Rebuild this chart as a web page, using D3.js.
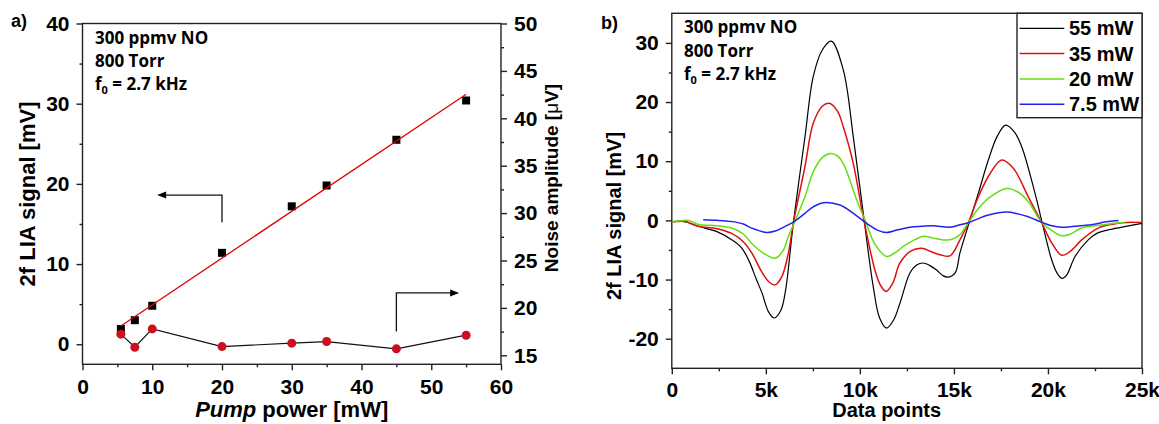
<!DOCTYPE html>
<html>
<head>
<meta charset="utf-8">
<script src="https://cdn.jsdelivr.net/npm/d3@7"></script>
<style>
  body { margin: 0; background: #fff; }
  svg { display: block; }
  text { font-family: "Liberation Sans", Arial, sans-serif; font-weight: bold; fill: #000; }
  .note { font-family: "Open Sans", sans-serif; font-weight: 700; }
</style>
</head>
<body>
<svg id="chart" width="1159" height="424"></svg>
<script>
// panel a) signal and noise vs pump power
var pump_power = [5.5, 7.5, 10, 20, 30, 35, 45, 55];
var lia_signal = [1.9, 3.0, 4.8, 11.4, 17.2, 19.8, 25.5, 30.4];
var noise_amplitude = [17.23, 15.85, 17.78, 15.92, 16.28, 16.45, 15.68, 17.12];

// panel b) 2f waveforms, x in data points, y in mV
var legend_labels = ['55 mW', '35 mW', '20 mW', '7.5 mW'];
var points_55 = [0, 700, 1400, 2400, 3200, 3700, 4100, 4500, 4800, 5150, 5450, 5800, 6050, 6460, 7080, 7520, 8000, 8480, 9120, 9650, 10180, 10710, 11050, 11420, 11800, 12130, 12660, 13000, 13370, 13700, 14080, 14400, 14650, 15060, 15320, 15800, 16300, 16830, 17300, 17750, 18200, 18600, 19310, 19700, 20200, 20500, 20750, 21000, 21440, 22140, 22600, 23200, 24000, 25000];
var signal_55 = [-0.2, -0.2, -1.0, -1.9, -3.3, -4.6, -6.8, -10.0, -12.3, -15.5, -16.5, -15.2, -11.8, -0.5, 14.1, 24.3, 28.8, 30.3, 25.4, 14.1, 1.2, -11.2, -16.5, -18.2, -16.8, -14.0, -8.9, -7.6, -7.2, -7.6, -8.4, -9.3, -9.6, -8.9, -5.5, -0.5, 4.6, 10.2, 14.2, 16.1, 15.0, 12.5, 4.6, -0.5, -6.7, -9.0, -9.8, -9.2, -6.1, -3.3, -2.2, -1.6, -1.1, -0.5];
var points_35 = [0, 700, 1410, 2400, 3180, 3800, 4250, 4800, 5200, 5490, 5850, 6200, 6460, 7080, 7520, 8000, 8370, 8800, 9120, 9650, 10180, 10800, 11100, 11390, 11750, 12130, 12700, 13280, 13800, 14260, 14790, 15320, 15760, 16300, 16900, 17540, 18160, 18950, 19650, 20200, 20730, 21200, 21790, 22670, 23500, 24200, 25000];
var signal_35 = [-0.3, -0.2, -1.0, -1.4, -2.2, -3.6, -5.5, -8.8, -10.5, -10.9, -9.5, -5.5, -0.5, 9.1, 16.4, 19.3, 19.8, 18.5, 15.8, 9.6, 0.6, -8.4, -11.0, -12.0, -10.6, -7.2, -5.2, -4.7, -5.3, -5.8, -6.0, -3.3, -0.45, 4.0, 7.8, 10.2, 8.8, 4.0, -0.3, -3.8, -5.9, -5.2, -3.3, -1.3, -0.6, -0.35, -0.37];
var points_20 = [0, 890, 1410, 2400, 3180, 3800, 4250, 4900, 5490, 5900, 6200, 6500, 7080, 7520, 8000, 8410, 8800, 9120, 9830, 10270, 10800, 11420, 11900, 12310, 12900, 13370, 13900, 14430, 14900, 15320, 15760, 16300, 16900, 17800, 18400, 18950, 19650, 20200, 20730, 21200, 21790, 22850, 23500, 24100];
var signal_20 = [-0.3, 0.0, -0.7, -0.9, -1.3, -2.3, -3.9, -5.6, -6.4, -5.2, -2.7, -0.5, 4.0, 8.2, 10.6, 11.3, 10.9, 9.6, 3.5, 0.1, -4.0, -6.1, -5.4, -4.4, -3.3, -2.7, -3.0, -3.3, -3.2, -2.4, -0.45, 2.0, 3.9, 5.4, 4.8, 3.2, -0.3, -1.7, -2.6, -2.3, -1.3, -0.8, -0.5, -0.3];
var points_7_5 = [1670, 2500, 3180, 3800, 4250, 5050, 5500, 5840, 6460, 7080, 7520, 8060, 8940, 9650, 10360, 10900, 11420, 12000, 12660, 13300, 13900, 14790, 15320, 15760, 16300, 16830, 17800, 18400, 18950, 19650, 20200, 20730, 21400, 22140, 23200, 23750];
var signal_7_5 = [0.1, 0.0, -0.2, -0.6, -1.3, -2.05, -1.8, -1.3, -0.3, 1.2, 2.3, 3.0, 2.6, 1.2, -0.5, -1.6, -2.05, -1.6, -1.15, -1.0, -0.9, -1.15, -0.75, -0.4, 0.3, 0.9, 1.4, 1.1, 0.6, -0.3, -0.9, -1.15, -1.0, -0.8, -0.2, 0.0];
var line_colors = ['#000000', '#dd1111', '#66dd11', '#2222ee'];
var line_widths = [1.2, 1.5, 1.5, 1.5];

var svg = d3.select('#chart');
svg.append('rect').attr('width', 1159).attr('height', 424).attr('fill', '#fff');

// plain hyphen for negatives, like the original figure
var plain = (d) => String(d);

function style_axis(g, size) {
    g.attr('font-family', '"Liberation Sans", Arial, sans-serif')
	.attr('font-weight', 'bold')
	.attr('font-size', size);
    g.select('.domain').remove();
    g.selectAll('line').attr('stroke', '#222').attr('stroke-width', 1.4);
    g.selectAll('text').attr('fill', '#000');
    return g;
}

function note_block(x, y0, step) {
    var t = svg.append('g').attr('class', 'note').attr('font-size', 17);
    t.append('text').attr('class', 'note').attr('x', x).attr('y', y0).text('300 ppmv NO');
    t.append('text').attr('class', 'note').attr('x', x).attr('y', y0 + step).text('800 Torr');
    var f = t.append('text').attr('class', 'note').attr('x', x).attr('y', y0 + 2 * step);
    f.append('tspan').text('f');
    f.append('tspan').attr('font-size', 11).attr('dy', 4).text('0');
    f.append('tspan').attr('dy', -4).text(' = 2.7 kHz');
}

// ---------- panel a ----------
var xa = d3.scaleLinear().domain([0, 60]).range([82.5, 501]);
var ya = d3.scaleLinear().domain([-2.5, 40]).range([364.3, 23.5]);
var ya2 = d3.scaleLinear().domain([14.05, 50]).range([364.3, 23.5]);

style_axis(svg.append('g').attr('transform', 'translate(0,364.3)')
	   .call(d3.axisBottom(xa).tickValues(d3.range(0, 61, 10)).tickSize(6).tickPadding(9).tickSizeOuter(0).tickFormat(plain)), 21);
style_axis(svg.append('g').attr('transform', 'translate(0,364.3)')
	   .call(d3.axisBottom(xa).tickValues(d3.range(5, 60, 10)).tickSize(3).tickFormat('')), 21);
style_axis(svg.append('g').attr('transform', 'translate(82.5,0)')
	   .call(d3.axisLeft(ya).tickValues(d3.range(0, 41, 10)).tickSize(6).tickPadding(7).tickSizeOuter(0).tickFormat(plain)), 21);
style_axis(svg.append('g').attr('transform', 'translate(82.5,0)')
	   .call(d3.axisLeft(ya).tickValues(d3.range(5, 40, 10)).tickSize(3).tickFormat('')), 21);
style_axis(svg.append('g').attr('transform', 'translate(501,0)')
	   .call(d3.axisRight(ya2).tickValues(d3.range(15, 51, 5)).tickSize(6).tickPadding(7).tickSizeOuter(0).tickFormat(plain)), 21);
style_axis(svg.append('g').attr('transform', 'translate(501,0)')
	   .call(d3.axisRight(ya2).tickValues(d3.range(17.5, 50, 5)).tickSize(3).tickFormat('')), 21);

svg.append('rect').attr('x', 82.5).attr('y', 23.5).attr('width', 501 - 82.5).attr('height', 364.3 - 23.5)
    .attr('fill', 'none').attr('stroke', '#222').attr('stroke-width', 1.4);

// least squares fit of the signal
var mx = d3.mean(pump_power), my = d3.mean(lia_signal);
var slope = d3.sum(pump_power, (p, i) => (p - mx) * (lia_signal[i] - my)) / d3.sum(pump_power, p => (p - mx) * (p - mx));
var intercept = my - slope * mx;
var fit_x = d3.extent(pump_power);

svg.selectAll('.sq').data(pump_power).enter().append('rect')
    .attr('x', (d) => xa(d) - 4).attr('y', (d, i) => ya(lia_signal[i]) - 4)
    .attr('width', 8).attr('height', 8).attr('fill', '#000');

svg.append('line')
    .attr('x1', xa(fit_x[0])).attr('y1', ya(slope * fit_x[0] + intercept))
    .attr('x2', xa(fit_x[1])).attr('y2', ya(slope * fit_x[1] + intercept))
    .attr('stroke', '#e00000').attr('stroke-width', 1.3);

svg.append('path').datum(pump_power)
    .attr('fill', 'none').attr('stroke', '#111').attr('stroke-width', 1.2)
    .attr('d', d3.line().x((d) => xa(d)).y((d, i) => ya2(noise_amplitude[i])));

svg.selectAll('.dot').data(pump_power).enter().append('circle')
    .attr('cx', (d) => xa(d)).attr('cy', (d, i) => ya2(noise_amplitude[i]))
    .attr('r', 4.5).attr('fill', '#cc0f1e');

// arrows pointing at the axes (left axis units)
var arrow_left = {stem: [20, 15.2], corner: [20, 18.6], tip: [10.7, 18.6]};
var arrow_right = {stem: [45, 1.6], corner: [45, 6.4], tip: [54, 6.4]};
[arrow_left, arrow_right].forEach(a => {
    var tx = xa(a.tip[0]), ty = ya(a.tip[1]);
    var dir = a.tip[0] < a.corner[0] ? 1 : -1;
    svg.append('polyline')
	.attr('points', [[xa(a.stem[0]), ya(a.stem[1])], [xa(a.corner[0]), ya(a.corner[1])], [tx + dir * 6, ty]].join(' '))
	.attr('fill', 'none').attr('stroke', '#111').attr('stroke-width', 1.3);
    svg.append('path')
	.attr('d', 'M' + tx + ',' + ty + 'L' + (tx + dir * 9) + ',' + (ty - 3.5) + 'L' + (tx + dir * 9) + ',' + (ty + 3.5) + 'Z')
	.attr('fill', '#000');
});

note_block(95, 44, 23);

svg.append('text').attr('x', 11).attr('y', 27).attr('font-size', 18).text('a)');
svg.append('text').attr('transform', 'translate(34.5,194) rotate(-90)')
    .attr('text-anchor', 'middle').attr('font-size', 22).text('2f LIA signal [mV]');
var nt = svg.append('text').attr('transform', 'translate(558,178) rotate(-90)')
    .attr('text-anchor', 'middle').attr('font-size', 19);
nt.append('tspan').text('Noise amplitude [');
nt.append('tspan').attr('font-weight', 'normal').text('\u03bc');
nt.append('tspan').text('V]');
var xt = svg.append('text').attr('x', 291.7).attr('y', 417).attr('text-anchor', 'middle').attr('font-size', 22);
xt.append('tspan').attr('font-style', 'italic').text('Pump');
xt.append('tspan').text(' power [mW]');

// ---------- panel b ----------
var xb = d3.scaleLinear().domain([0, 25000]).range([671.8, 1142]);
var yb = d3.scaleLinear().domain([-25, 35]).range([368.3, 13.3]);

style_axis(svg.append('g').attr('transform', 'translate(0,368.3)')
	   .call(d3.axisBottom(xb).tickValues(d3.range(0, 25001, 5000)).tickSize(6).tickPadding(8).tickSizeOuter(0)
		 .tickFormat((d) => d === 0 ? '0' : (d / 1000) + 'k')), 21);
style_axis(svg.append('g').attr('transform', 'translate(0,368.3)')
	   .call(d3.axisBottom(xb).tickValues(d3.range(2500, 25000, 5000)).tickSize(3).tickFormat('')), 21);
style_axis(svg.append('g').attr('transform', 'translate(671.8,0)')
	   .call(d3.axisLeft(yb).tickValues(d3.range(-20, 31, 10)).tickSize(6).tickPadding(7).tickSizeOuter(0).tickFormat(plain)), 21);
style_axis(svg.append('g').attr('transform', 'translate(671.8,0)')
	   .call(d3.axisLeft(yb).tickValues(d3.range(-15, 30, 10)).tickSize(3).tickFormat('')), 21);

svg.append('rect').attr('x', 671.8).attr('y', 13.3).attr('width', 1142 - 671.8).attr('height', 368.3 - 13.3)
    .attr('fill', 'none').attr('stroke', '#222').attr('stroke-width', 1.4);

var series_x = [points_55, points_35, points_20, points_7_5];
var series_y = [signal_55, signal_35, signal_20, signal_7_5];
var wave = d3.line().curve(d3.curveCatmullRom.alpha(0.5));
series_x.forEach((xs, s) => {
    svg.append('path')
	.attr('fill', 'none').attr('stroke', line_colors[s]).attr('stroke-width', line_widths[s])
	.attr('d', wave(xs.map((p, i) => [xb(p), yb(series_y[s][i])])));
});

note_block(684, 33.3, 23.4);

svg.append('text').attr('x', 601).attr('y', 29).attr('font-size', 18).text('b)');
svg.append('text').attr('transform', 'translate(621,216) rotate(-90)')
    .attr('text-anchor', 'middle').attr('font-size', 20).text('2f LIA signal [mV]');
svg.append('text').attr('x', 886.7).attr('y', 417).attr('text-anchor', 'middle').attr('font-size', 20).text('Data points');

// legend
var lg = svg.append('g');
lg.append('rect').attr('x', 1017).attr('y', 13.3).attr('width', 1142 - 1017).attr('height', 117.7 - 13.3)
    .attr('fill', '#fff').attr('stroke', '#222').attr('stroke-width', 1.4);
legend_labels.forEach((name, i) => {
    var yy = 28.3 + i * 25.3;
    lg.append('line').attr('x1', 1019.6).attr('x2', 1064.3).attr('y1', yy).attr('y2', yy)
	.attr('stroke', line_colors[i]).attr('stroke-width', line_widths[i]);
    lg.append('text').attr('x', 1069).attr('y', yy + 7).attr('font-size', 20).text(name);
});
</script>
</body>
</html>
